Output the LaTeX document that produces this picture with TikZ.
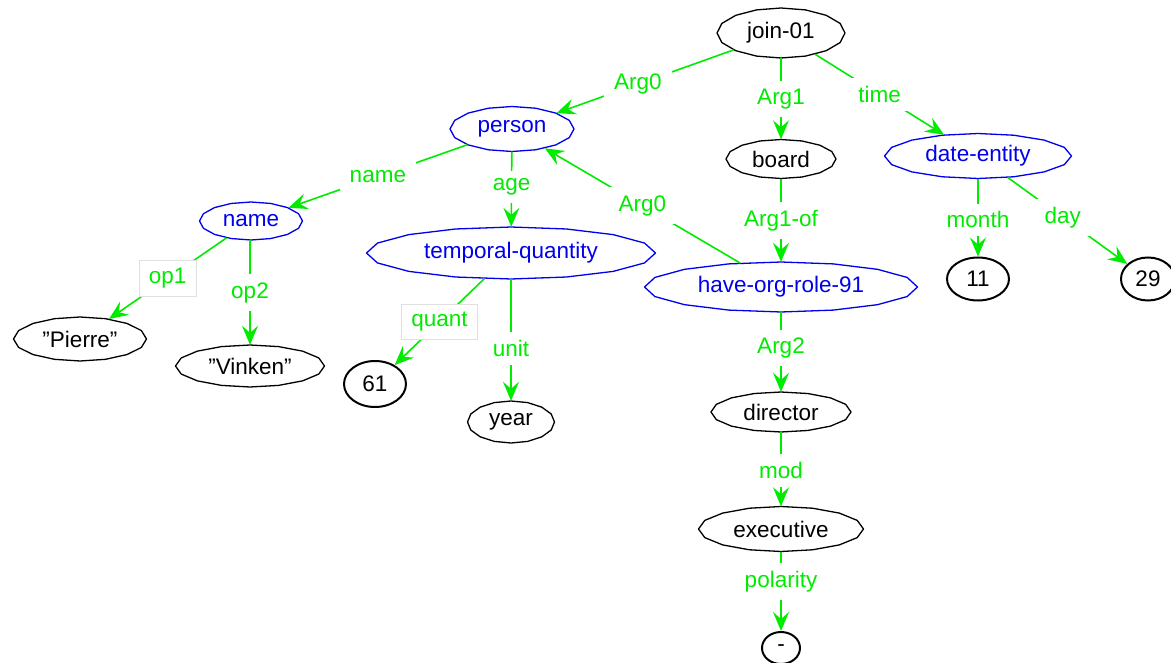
\documentclass[tikz,border=0pt]{standalone}
\usepackage{fontspec}
\setmainfont{Liberation Sans}
\usetikzlibrary{arrows.meta,shapes.geometric}
\definecolor{edgegreen}{RGB}{0,235,0}
\definecolor{conceptblue}{RGB}{0,0,235}

% polygonal oval node: name, x, y, width, height, colour, text
\newcommand{\ovalnode}[7]{%
  \node[amr, text=#6, minimum width=#4pt, minimum height=#5pt] (#1) at (#2,#3) {#7};
  \draw[#6, line width=1.3pt, line join=round]
    plot[domain=0:360, samples=17] ({#2+#4/2*cos(\x)},{#3+#5/2*sin(\x)}) -- cycle;
}

\begin{document}
\begin{tikzpicture}[x=1pt, y=-1pt,
  amr/.style={ellipse, inner sep=0pt, font=\fontsize{22.5}{27}\selectfont},
  constnode/.style={ellipse, draw=black, line width=2pt, inner sep=0pt,
    font=\fontsize{22.5}{27}\selectfont},
  rel/.style={draw=edgegreen, line width=1.6pt,
    -{Stealth[length=19pt, width=16pt, inset=7pt]}},
  lbl/.style={fill=white, text=edgegreen, inner xsep=10pt, inner ysep=8pt,
    font=\fontsize{22.5}{27}\selectfont},
  boxlbl/.style={lbl, draw=black!12, line width=0.6pt}
]
\useasboundingbox (0,0) rectangle (1171,663);

% concepts
\ovalnode{join}{781}{33}{128}{50}{black}{join-01}
\ovalnode{person}{512}{129}{124}{45}{conceptblue}{person}
\ovalnode{board}{781}{159}{110}{39}{black}{board}
\ovalnode{date}{978}{156}{187}{45}{conceptblue}{date-entity}
\ovalnode{name}{251}{221}{103}{38}{conceptblue}{name}
\ovalnode{tq}{511}{253}{289}{52}{conceptblue}{temporal-quantity}
\ovalnode{hor}{781}{287}{273}{50}{conceptblue}{have-org-role-91}
\ovalnode{pierre}{80}{339}{133}{44}{black}{”Pierre”}
\ovalnode{vinken}{250}{366}{149}{42}{black}{”Vinken”}
\ovalnode{year}{511}{422}{87}{42}{black}{year}
\ovalnode{director}{781}{412}{140}{40}{black}{director}
\ovalnode{exec}{781}{529}{165}{45}{black}{executive}

% constants
\node[constnode, minimum width=62pt, minimum height=46pt] (q61) at (375,384) {61};
\node[constnode, minimum width=62pt, minimum height=43pt] (m11) at (978,279) {11};
\node[constnode, minimum width=54pt, minimum height=43pt] (d29) at (1148,279) {29};
\node[constnode, minimum width=38pt, minimum height=32pt] (neg) at (781,648) {-};

% relations
\draw[rel] (join) -- node[lbl, pos=0.54] {Arg0} (person);
\draw[rel] (join) -- node[lbl] {Arg1} (board);
\draw[rel] (join) -- node[lbl] {time} (date);
\draw[rel] (person) -- node[lbl] {name} (name);
\draw[rel] (person) -- node[lbl, pos=0.47] {age} (tq);
\draw[rel] (hor) -- node[lbl] {Arg0} (person);
\draw[rel] (board) -- node[lbl] {Arg1-of} (hor);
\draw[rel] (name) -- node[boxlbl] {op1} (pierre);
\draw[rel] (name.south -| vinken.north) -- node[lbl] {op2} (vinken.north);
\draw[rel] (tq) -- node[boxlbl, pos=0.5] {quant} (q61);
\draw[rel] (tq) -- node[lbl, pos=0.57] {unit} (year);
\draw[rel] (hor) -- node[lbl, pos=0.45] {Arg2} (director);
\draw[rel] (director) -- node[lbl, pos=0.52] {mod} (exec);
\draw[rel] (exec) -- node[lbl, pos=0.38] {polarity} (neg);
\draw[rel] (date) -- node[lbl, pos=0.53] {month} (m11);
\draw[rel] (date) -- node[lbl, pos=0.46] {day} (d29);
\end{tikzpicture}
\end{document}
